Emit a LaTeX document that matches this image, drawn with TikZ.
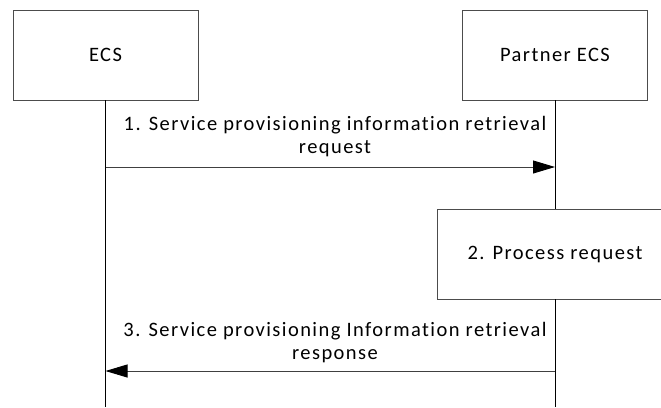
\documentclass[tikz,border=0pt]{standalone}
\usepackage{fontspec}
\setmainfont{Carlito}
\newfontfamily\spacedfont[LetterSpace=7,Ligatures={NoCommon}]{Carlito}
\usetikzlibrary{arrows.meta}
\tikzset{
  txt/.style={font=\spacedfont\fontsize{20.5}{23}\selectfont},
  actor/.style={txt, draw=black!70, line width=0.9pt, minimum width=185pt, minimum height=90pt, inner sep=0pt},
  procbox/.style={txt, draw=black!70, line width=0.9pt, minimum width=236pt, minimum height=90pt, inner sep=0pt},
  life/.style={draw=black, line width=0.8pt},
  msg/.style={draw=black!75, line width=0.9pt, -{Triangle[length=22pt,width=13pt,color=black,fill=black]}},
  lbl/.style={txt, align=center, inner sep=0pt}
}
\begin{document}
\begin{tikzpicture}[x=1pt,y=-1pt]
\useasboundingbox (0,0) rectangle (661,407);
\begin{scope}
\clip (0,0) rectangle (661,407);
\node[actor] (ecs) at (105.5,55) {ECS};
\node[actor] (pecs) at (555,55) {Partner ECS};
\coordinate (ecsend) at (105.5,407);
\coordinate (pecsend) at (555,407);
\coordinate (m1s) at (105.5,167);
\coordinate (m1e) at (555,167);
\node[procbox] (proc) at (555,254) {2. Process request};
\coordinate (m3s) at (555,371);
\coordinate (m3e) at (105.5,371);
\draw[life] (ecs.south) -- (ecsend);
\draw[life] (pecs.south) -- (proc.north);
\draw[life] (proc.south) -- (pecsend);
\draw[msg] (m1s) -- (m1e);
\draw[msg] (m3s) -- (m3e);
\node[lbl] (l1) at (335,137) {1. Service provisioning information retrieval\\request};
\node[lbl] (l3) at (335,343) {3. Service provisioning Information retrieval\\response};
\end{scope}
\end{tikzpicture}
\end{document}
